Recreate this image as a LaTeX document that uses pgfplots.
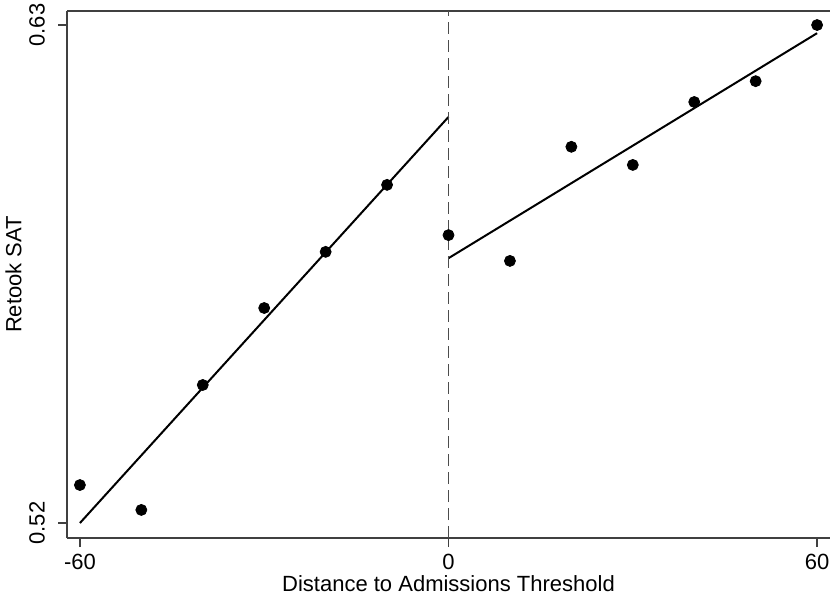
\documentclass[border=0pt]{standalone}
\usepackage{pgfplots}
\pgfplotsset{compat=1.18}
\usepackage{fontspec}
\setmainfont{Liberation Sans}
\begin{document}
\begin{tikzpicture}
\begin{axis}[
    scale only axis,
    width=381.5pt, height=263.5pt,
    xmin=-62.1, xmax=62.1,
    ymin=0.5167, ymax=0.6331,
    axis x line=box, axis y line=left,
    y axis line style={-},
    axis line style={line width=1pt, black!75},
    xtick={-60,0,60}, xticklabels={-60,0,60},
    ytick={0.52,0.63}, yticklabels={0.52,0.63},
    tick align=outside, tick pos=left,
    major tick length=4.5pt,
    tick style={line width=0.7pt, black!75},
    yticklabel style={rotate=90, anchor=south, yshift=3pt, font=\fontsize{11}{13}\selectfont},
    xticklabel style={font=\fontsize{11}{13}\selectfont},
    xlabel={Distance to Admissions Threshold},
    ylabel={Retook SAT},
    label style={font=\fontsize{11}{13}\selectfont, inner sep=0pt},
    xlabel style={at={(rel axis cs:0.5,0)}, anchor=south, yshift=-27pt},
    ylabel style={at={(rel axis cs:0,0.5)}, anchor=north, yshift=31pt},
    clip=false,
]
\addplot[only marks, mark=*, mark size=2.75pt, black] coordinates {
    (-60,0.5284) (-50,0.5229) (-40,0.5505) (-30,0.5675) (-20,0.5799) (-10,0.5947)
    (0,0.5836) (10,0.5779) (20,0.6031) (30,0.5991) (40,0.6130) (50,0.6176) (60,0.6300)
};
\addplot[black, line width=1pt] coordinates {(-60,0.5200) (0,0.6097)};
\addplot[black, line width=1pt] coordinates {(0,0.5785) (60,0.6282)};
\addplot[black!70, line width=0.7pt, dash pattern=on 6pt off 3pt] coordinates {(0,0.5167) (0,0.6331)};
\coordinate (bl) at (rel axis cs:0,0);
\coordinate (tr) at (rel axis cs:1,1);
\end{axis}
\pgfresetboundingbox
\path ([xshift=-33.5pt,yshift=-29.5pt]bl) rectangle ([yshift=5.5pt]tr);
\end{tikzpicture}
\end{document}
